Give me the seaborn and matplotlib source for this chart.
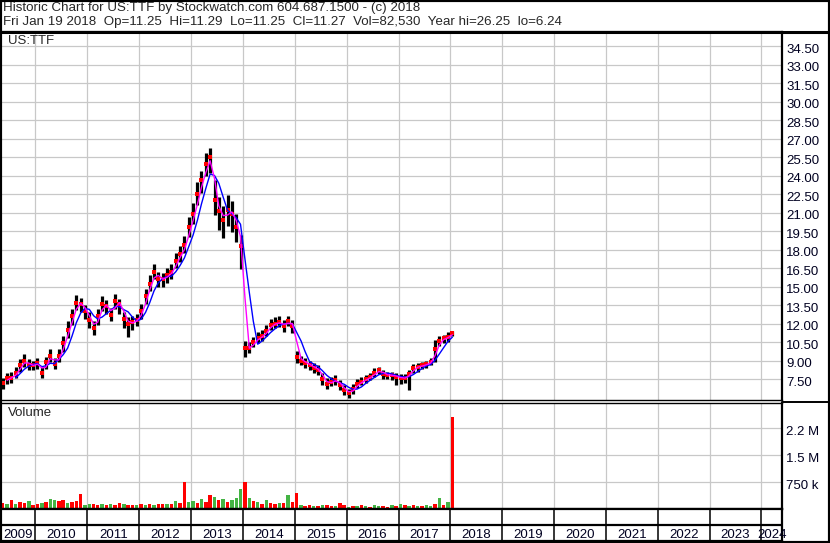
import matplotlib
matplotlib.use("Agg")
from matplotlib import pyplot as plt
from matplotlib.lines import Line2D
from matplotlib.patches import Rectangle
from matplotlib.transforms import ScaledTranslation
import seaborn as sns
import pandas as pd

# ----------- chart data (monthly, May 2009 .. Jan 2018) ------------
close = [
    7.2, 7.6, 7.6, 8.0, 8.6, 9.0, 8.6, 8.6,  # 2009
    8.8, 8.0, 8.9, 9.4, 8.7, 9.4, 10.4, 11.5, 12.6, 13.7, 13.6, 13.0,  # 2010
    12.3, 11.6, 12.6, 13.6, 13.4, 12.7, 13.8, 13.6, 12.4, 12.0, 12.1, 12.3,  # 2011
    13.0, 14.2, 15.2, 16.2, 15.6, 15.6, 15.9, 16.2, 17.1, 17.6, 18.4, 19.8,  # 2012
    20.9, 22.5, 23.6, 24.9, 25.5, 22.0, 21.1, 20.4, 21.2, 20.9, 19.8, 18.3,  # 2013
    10.0, 10.0, 10.5, 10.8, 11.0, 11.4, 11.9, 12.0, 12.1, 11.8, 12.2, 11.8,  # 2014
    9.3, 9.0, 8.8, 8.6, 8.4, 8.2, 7.5, 7.1, 7.3, 7.4, 7.0, 6.6,  # 2015
    6.35, 6.7, 7.1, 7.3, 7.5, 7.7, 8.0, 8.2, 7.9, 7.8, 7.8, 7.7,  # 2016
    7.55, 7.6, 7.9, 8.4, 8.5, 8.6, 8.7, 8.9, 9.9, 10.6, 10.8, 10.9,  # 2017
    11.27,  # 2018
]
low = [
    6.7, 7.1, 7.2, 7.6, 8.1, 8.5, 8.2, 8.2,
    8.3, 7.6, 8.3, 8.9, 8.3, 8.9, 9.7, 10.8, 11.9, 13.1, 12.9, 12.4,
    11.6, 11.1, 11.9, 13.0, 12.8, 12.2, 13.2, 12.8, 11.6, 10.9, 11.5, 11.8,
    12.4, 13.6, 14.6, 15.6, 15.0, 15.0, 15.3, 15.6, 16.5, 17.0, 17.7, 19.0,
    20.1, 21.6, 22.6, 24.0, 24.2, 20.8, 19.6, 18.9, 19.9, 19.4, 18.6, 16.4,
    9.3, 9.6, 10.1, 10.4, 10.6, 11.0, 11.5, 11.6, 11.7, 11.3, 11.8, 11.2,
    8.8, 8.6, 8.4, 8.2, 8.0, 7.8, 7.0, 6.7, 6.9, 7.0, 6.6, 6.2,
    6.0, 6.3, 6.8, 7.0, 7.2, 7.4, 7.7, 7.9, 7.5, 7.5, 7.4, 7.0,
    7.1, 7.2, 6.6, 8.0, 8.1, 8.3, 8.4, 8.6, 8.9, 10.2, 10.4, 10.5,
    11.0,
]
high = [
    7.6, 8.0, 8.1, 8.5, 9.1, 9.5, 9.1, 9.0,
    9.2, 8.5, 9.3, 9.9, 9.2, 9.9, 11.0, 12.2, 13.2, 14.3, 14.1, 13.5,
    12.9, 12.2, 13.2, 14.2, 13.9, 13.3, 14.4, 14.0, 12.9, 12.5, 12.6, 12.8,
    13.6, 14.8, 15.9, 16.8, 16.2, 16.1, 16.5, 16.8, 17.7, 18.3, 19.1, 20.6,
    21.8, 23.5, 24.4, 25.8, 26.25, 23.6, 22.3, 21.5, 22.4, 21.9, 20.9, 19.2,
    10.6, 10.5, 10.9, 11.3, 11.5, 11.9, 12.4, 12.5, 12.6, 12.3, 12.6, 12.3,
    9.8, 9.4, 9.2, 9.0, 8.8, 8.6, 8.0, 7.6, 7.7, 7.8, 7.4, 7.0,
    6.7, 7.1, 7.5, 7.7, 7.8, 8.0, 8.4, 8.5, 8.2, 8.1, 8.1, 8.0,
    7.9, 7.9, 8.2, 8.7, 8.8, 8.9, 9.0, 9.2, 10.7, 11.0, 11.1, 11.3,
    11.4,
]
volume = [
    180, 150, 240, 130, 200, 160, 230, 120,
    140, 180, 200, 280, 250, 220, 260, 170, 200, 230, 420, 120,
    150, 130, 110, 140, 120, 130, 100, 180, 140, 110, 120, 100,
    130, 110, 150, 120, 130, 140, 130, 150, 230, 160, 760, 200,
    230, 180, 290, 200, 400, 330, 250, 280, 200, 250, 300, 570,
    740, 300, 220, 200, 150, 250, 170, 140, 160, 180, 400, 200,
    450, 100, 90, 120, 80, 90, 100, 110, 80, 90, 180, 100,
    60, 70, 80, 100, 70, 60, 100, 80, 90, 60, 110, 70,
    150, 100, 80, 110, 90, 70, 120, 90, 130, 310, 120, 200,
    2550,
]  # thousands of shares
vol_colour = ("rgrgrrgr" "rgrggrrgrrrg" "grrgrgrrgrrg" "rgrgrrgrgrrg" "grgrrgrgrggg"
              "rgrgrgrrgrgr" "rgrrgrgrrgrr" "grgrgrggrrgr" "grgrgrggrgrg" "r")

price_ticks = [7.5, 9.0, 10.5, 12.0, 13.5, 15.0, 16.5, 18.0, 19.5, 21.0,
               22.5, 24.0, 25.5, 27.0, 28.5, 30.0, 31.5, 33.0, 34.5]
volume_ticks = [750000, 1500000, 2250000]
volume_labels = ["750 k", "1.5 M", "2.2 M"]
years = list(range(2009, 2025))

header1 = "Historic Chart for US:TTF by Stockwatch.com 604.687.1500 - (c) 2018"
header2 = ("Fri Jan 19 2018  Op=11.25  Hi=11.29  Lo=11.25  Cl=11.27  "
           "Vol=82,530  Year hi=26.25  lo=6.24")

months = pd.date_range("2009-05-01", "2018-01-01", freq="MS") + pd.Timedelta(days=14)
df = pd.DataFrame({"date": months, "close": close, "low": low, "high": high,
                   "volume": [v * 1000 for v in volume],
                   "colour": ["#ff0000" if c == "r" else "#44b444" for c in vol_colour]})
df["ma_fast"] = df["close"].rolling(2).mean()
df["ma_slow"] = df["close"].rolling(4).mean()

# ----------- layout ------------
sns.set_theme(style="white")
plt.rcParams["font.family"] = ["Liberation Sans", "DejaVu Sans"]

W, H = 830, 543
fig = plt.figure(figsize=(W / 100, H / 100), dpi=100)
fig.patch.set_facecolor("white")


def box(x0, y0, x1, y1):
    return [x0 / W, 1 - y1 / H, (x1 - x0) / W, (y1 - y0) / H]


ax_p = fig.add_axes(box(1, 32, 782, 400))
ax_v = fig.add_axes(box(1, 403, 782, 509))
ax_x = fig.add_axes(box(1, 509, 782, 541))

xmin, xmax = pd.Timestamp("2009-05-03"), pd.Timestamp("2024-05-25")
year_lines = [pd.Timestamp(f"{y}-01-01") for y in years[1:]]
grid_kw = dict(color="#c8c8c8", linewidth=0.9)
label_shift = ScaledTranslation(0, -2 / 100, fig.dpi_scale_trans)

for ax in (ax_p, ax_v, ax_x):
    ax.set_xlim(xmin, xmax)
    ax.set_facecolor("white")
    for s in ax.spines.values():
        s.set_color("black")
        s.set_linewidth(1.6)
    ax.spines["left"].set_visible(False)
    ax.set_xticks(year_lines)
    ax.tick_params(axis="both", length=0, labelbottom=False, labelleft=False)

# price panel
ax_p.vlines(df["date"], df["low"], df["high"], color="black", linewidth=2.3)
sns.scatterplot(data=df, x="date", y="close", ax=ax_p, color="#ff0000",
                marker="s", s=5, linewidth=0, zorder=3)
sns.lineplot(data=df, x="date", y="ma_slow", ax=ax_p, color="#0000ff", linewidth=1.0, zorder=4)
sns.lineplot(data=df, x="date", y="ma_fast", ax=ax_p, color="#ff00ff", linewidth=1.0, zorder=5)
ax_p.set_ylim(5.8, 35.64)
ax_p.set_yticks(price_ticks)
ax_p.set_yticklabels([f"{t:.2f}" for t in price_ticks])
ax_p.yaxis.tick_right()
ax_p.tick_params(axis="y", labelright=True, labelsize=9.5, pad=3, labelcolor="#000020")
ax_p.grid(True, **grid_kw)
ax_p.set_axisbelow(True)
ax_p.set_xlabel("")
ax_p.set_ylabel("")
ax_p.spines["bottom"].set_linewidth(1.0)
ax_p.text(7 / 781, 1 - 9 / 368, "US:TTF", transform=ax_p.transAxes,
          fontsize=9.5, va="center", ha="left")

# volume panel
ax_v.bar(df["date"], df["volume"], width=24, color=df["colour"], linewidth=0)
ax_v.set_ylim(0, 2.95e6)
ax_v.set_yticks(volume_ticks)
ax_v.set_yticklabels(volume_labels)
ax_v.yaxis.tick_right()
ax_v.tick_params(axis="y", labelright=True, labelsize=9.5, pad=3, labelcolor="#000020")
ax_v.grid(True, **grid_kw)
ax_v.set_axisbelow(True)
ax_v.spines["top"].set_linewidth(1.0)
ax_v.text(7 / 781, 1 - 10 / 106, "Volume", transform=ax_v.transAxes,
          fontsize=9.5, va="center", ha="left")

for ax in (ax_p, ax_v):
    for lab in ax.get_yticklabels():
        lab.set_transform(lab.get_transform() + label_shift)

# year strip
ax_x.set_ylim(0, 1)
ax_x.axhline(0.49, color="black", linewidth=1.6)
for d in year_lines:
    ax_x.axvline(d, color="black", linewidth=1.1)
for y in years:
    a = max(pd.Timestamp(f"{y}-01-01"), xmin)
    b = min(pd.Timestamp(f"{y + 1}-01-01"), xmax)
    ax_x.text(a + (b - a) / 2, 0.2, str(y), ha="center", va="center", fontsize=9.5,
              color="#000020", clip_on=False)

# header and frame
fig.text(3 / W, 1 - 8 / H, header1, fontsize=9.6, va="center", ha="left")
fig.text(3 / W, 1 - 22 / H, header2, fontsize=9.6, va="center", ha="left")
fig.add_artist(Line2D([0, 1], [1 - 32 / H] * 2, transform=fig.transFigure,
                      color="black", linewidth=2.2))
fig.add_artist(Line2D([782 / W, 1], [1 - 401.5 / H] * 2, transform=fig.transFigure,
                      color="black", linewidth=1.4))
fig.add_artist(Rectangle((0, 0), 1, 1, transform=fig.transFigure, fill=False,
                         edgecolor="black", linewidth=3))

fig.savefig("out.png", dpi=100)
